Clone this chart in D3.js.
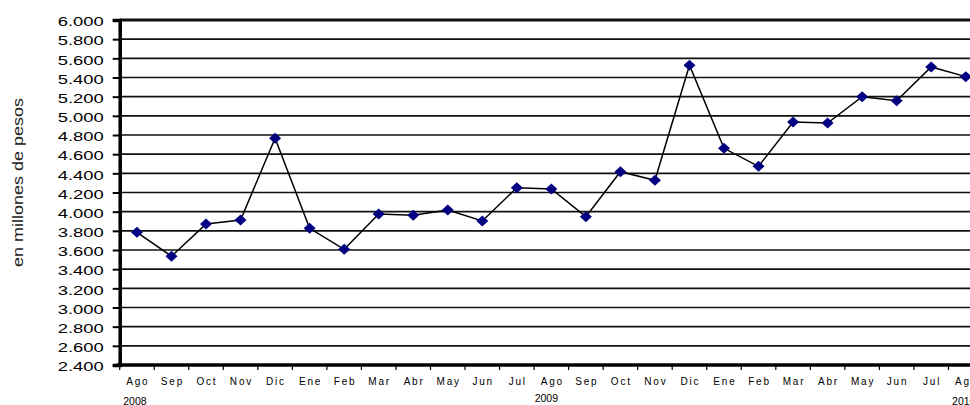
<!DOCTYPE html>
<html><head><meta charset="utf-8">
<script src="https://cdn.jsdelivr.net/npm/d3@7"></script>
<style>
html,body{margin:0;padding:0;background:#fff;overflow:hidden;}
svg{display:block;font-family:"Liberation Sans",Arial,sans-serif;}
</style></head>
<body>
<svg id="c" width="970" height="405"></svg>
<script>
const months = ["Ago","Sep","Oct","Nov","Dic","Ene","Feb","Mar","Abr","May","Jun","Jul",
                "Ago","Sep","Oct","Nov","Dic","Ene","Feb","Mar","Abr","May","Jun","Jul","Ago"];
const values = [3785,3535,3871,3913,4766,3826,3607,3976,3962,4017,3903,4250,
                4237,3948,4417,4327,5527,4661,4473,4936,4925,5200,5158,5510,5409];
const yearLabels = ["2008","2009","2010"];
const yearIndex = [0,12,24];
const yTicks = d3.range(2400, 6001, 200);
const yTitle = "en millones de pesos";

const svg = d3.select("#c");
const L = 119.7, R = 983, T = 20, B = 365;
const keys = months.map((m,i)=>i);
const x = d3.scaleBand().domain(keys).range([L,R]).padding(0);
const y = d3.scaleLinear().domain([2400,6000]).range([B,T]);
const cx = i => x(i) + x.bandwidth()/2;
const fmtY = v => { const s = String(v); return s.slice(0, s.length-3) + "." + s.slice(-3); };

// gridlines
svg.append("g").selectAll("line").data(yTicks.filter(v=>v>2400)).join("line")
  .attr("x1", L).attr("x2", 970).attr("y1", d=>y(d)).attr("y2", d=>y(d))
  .attr("stroke", "#111").attr("stroke-width", d=> d===6000 ? 3 : 1.6);

// y axis
const ya = svg.append("g").attr("transform", `translate(${L},0)`)
  .call(d3.axisLeft(y).tickValues(yTicks).tickSize(7).tickFormat(fmtY));
ya.select(".domain").attr("stroke","#000").attr("stroke-width",3.5);
ya.selectAll(".tick line").attr("stroke","#000").attr("stroke-width",2);
ya.selectAll(".tick text").attr("fill","#000").attr("font-size",13.5)
  .attr("x",-16).attr("dy","0.42em")
  .attr("textLength",46).attr("lengthAdjust","spacingAndGlyphs");

// x axis
const xa = svg.append("g").attr("transform", `translate(0,${B})`)
  .call(d3.axisBottom(x).tickSize(0).tickFormat(i=>months[i]));
xa.select(".domain").remove();
xa.selectAll(".tick text").attr("fill","#000").attr("font-size",10)
  .attr("y",19.5).attr("dy",0).attr("letter-spacing","1.8px").attr("dx","0.9px");
svg.append("line").attr("x1",L-3).attr("x2",970).attr("y1",B).attr("y2",B)
  .attr("stroke","#000").attr("stroke-width",3.5);
svg.append("g").selectAll("line").data(d3.range(0, months.length+1)).join("line")
  .attr("x1", i => L + i*x.bandwidth()).attr("x2", i => L + i*x.bandwidth())
  .attr("y1", B).attr("y2", B+5).attr("stroke","#000").attr("stroke-width",1.2);

// year labels
svg.append("g").selectAll("text").data(yearLabels).join("text")
  .attr("x",(d,i)=>cx(yearIndex[i]) - (i===1 ? 5 : 2)).attr("y",(d,i)=> i===1 ? 402 : 405)
  .attr("text-anchor","middle").attr("font-size",10.5).attr("fill","#000").text(d=>d);

// y title
svg.append("text").attr("transform","translate(23,182.5) rotate(-90)")
  .attr("text-anchor","middle").attr("font-size",14).attr("fill","#222")
  .attr("textLength",169).attr("lengthAdjust","spacingAndGlyphs").text(yTitle);

// line
svg.append("path").datum(values)
  .attr("d", d3.line().x((d,i)=>cx(i)).y(d=>y(d)))
  .attr("fill","none").attr("stroke","#000").attr("stroke-width",1.5);

// markers
svg.append("g").selectAll("path").data(values).join("path")
  .attr("transform",(d,i)=>`translate(${cx(i)},${y(d)})`)
  .attr("d","M0,-5.5L6,0L0,5.5L-6,0Z").attr("fill","#000080");
</script>
</body></html>
